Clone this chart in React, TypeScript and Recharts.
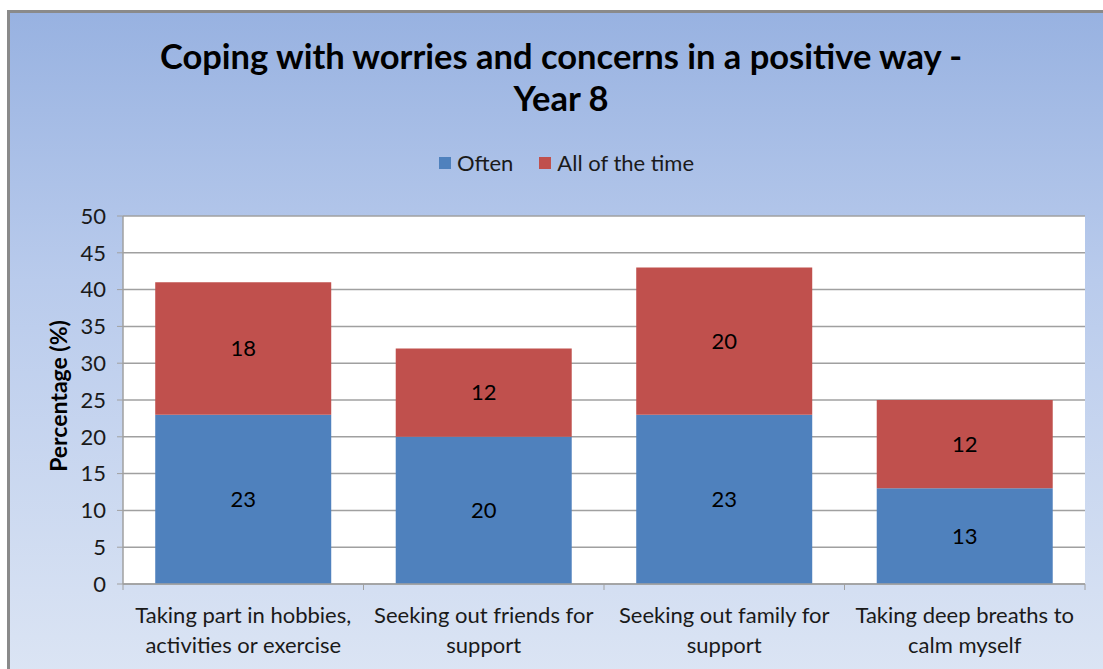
import React from "react";
import {
  BarChart,
  Bar,
  XAxis,
  YAxis,
  CartesianGrid,
  LabelList,
} from "recharts";

const categories = [
  "Taking part in hobbies,\nactivities or exercise",
  "Seeking out friends for\nsupport",
  "Seeking out family for\nsupport",
  "Taking deep breaths to\ncalm myself",
];
const often = [23, 20, 23, 13];
const allOfTheTime = [18, 12, 20, 12];
const yTicks = [0, 5, 10, 15, 20, 25, 30, 35, 40, 45, 50];

const series = [
  { key: "often", name: "Often", color: "#4f81bd" },
  { key: "all", name: "All of the time", color: "#c0504d" },
];

const data = categories.map((c, i) => ({
  name: c,
  often: often[i],
  all: allOfTheTime[i],
}));

const FONT = "Lato, 'Open Sans', sans-serif";
const BAND = 962 / categories.length;

function CategoryTick(props: any) {
  const { x, y, payload, index } = props;
  const lines = String(payload.value).split("\n");
  const axisY = y - 6;
  return (
    <g>
      <line x1={x - BAND / 2} x2={x - BAND / 2} y1={axisY} y2={axisY + 6} stroke="#a0a0a0" />
      {index === categories.length - 1 && (
        <line x1={x + BAND / 2} x2={x + BAND / 2} y1={axisY} y2={axisY + 6} stroke="#a0a0a0" />
      )}
      {lines.map((l, i) => (
        <text
          key={i}
          x={x}
          y={axisY + 39 + i * 30}
          textAnchor="middle"
          fontSize={22}
          fontFamily={FONT}
          fill="#1a1a1a"
        >
          {l}
        </text>
      ))}
    </g>
  );
}

function YLabel(props: any) {
  const { viewBox } = props;
  const cx = viewBox.x + 58;
  const cy = viewBox.y + viewBox.height / 2 - 4;
  return (
    <text
      x={cx}
      y={cy}
      transform={`rotate(-90 ${cx} ${cy})`}
      textAnchor="middle"
      dominantBaseline="central"
      fontSize={23}
      fontWeight="bold"
      fontFamily={FONT}
      fill="#000"
    >
      Percentage (%)
    </text>
  );
}

export default function App() {
  return (
    <div style={{ position: "absolute", left: 0, top: 0, width: 1103, height: 669, overflow: "hidden", background: "#fff" }}>
      <div
        style={{
          position: "absolute",
          left: 7,
          top: 10,
          width: 1110,
          height: 670,
          borderLeft: "3px solid #8a8a8a",
          borderTop: "3px solid #8a8a8a",
          background: "linear-gradient(to bottom, #98b2e1 0%, #b9cbec 40%, #dce5f4 100%)",
        }}
      />
      <div
        style={{
          position: "absolute",
          left: 0,
          top: 35,
          width: 1122,
          textAlign: "center",
          fontFamily: FONT,
          fontWeight: "bold",
          fontSize: 34.5,
          lineHeight: "42px",
          color: "#000",
        }}
      >
        Coping with worries and concerns in a positive way -
        <br />
        Year 8
      </div>
      <div
        style={{
          position: "absolute",
          left: 0,
          top: 148,
          width: 1133,
          display: "flex",
          justifyContent: "center",
          gap: 26,
          fontFamily: FONT,
          fontSize: 22,
          lineHeight: "30px",
          color: "#1a1a1a",
        }}
      >
        {series.map((s) => (
          <div key={s.key} style={{ display: "flex", alignItems: "center", gap: 6 }}>
            <span style={{ width: 12, height: 12, background: s.color, display: "inline-block" }} />
            <span>{s.name}</span>
          </div>
        ))}
      </div>
      <div style={{ position: "absolute", left: 0, top: 0 }}>
        <BarChart
          width={1103}
          height={669}
          data={data}
          margin={{ top: 216, right: 18, bottom: 0, left: 0 }}
          barCategoryGap="13.4%"
        >
          <CartesianGrid horizontal vertical={false} stroke="#a0a0a0" strokeWidth={1.5} fill="#ffffff" />
          <XAxis
            dataKey="name"
            height={85}
            interval={0}
            tickLine={false}
            axisLine={{ stroke: "#a0a0a0", strokeWidth: 1.5 }}
            tick={<CategoryTick />}
            tickMargin={0}
          />
          <YAxis
            width={123}
            domain={[0, 50]}
            ticks={yTicks}
            interval={0}
            tickSize={6}
            tickMargin={11}
            tickLine={{ stroke: "#a0a0a0" }}
            axisLine={{ stroke: "#a0a0a0", strokeWidth: 1.5 }}
            tick={{ fontSize: 22, fontFamily: FONT, fill: "#1a1a1a" }}
            label={<YLabel />}
          />
          {series.map((s) => (
            <Bar key={s.key} dataKey={s.key} name={s.name} stackId="a" fill={s.color} isAnimationActive={false}>
              <LabelList dataKey={s.key} position="center" fill="#000" fontSize={22} fontFamily={FONT} />
            </Bar>
          ))}
        </BarChart>
      </div>
    </div>
  );
}
